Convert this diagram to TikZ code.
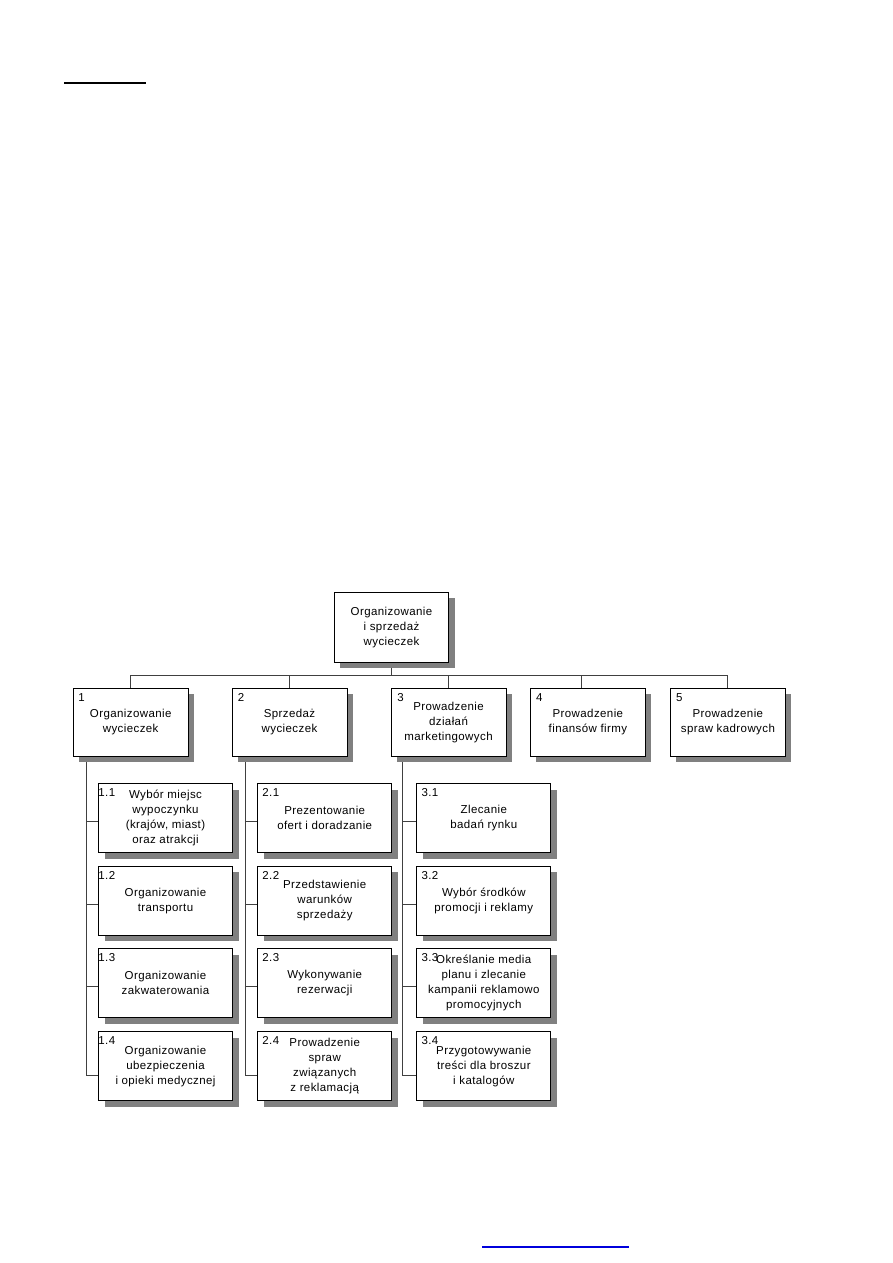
\documentclass[tikz,border=0pt]{standalone}
\usepackage{fontspec}
\setmainfont{Liberation Sans}[LetterSpace=3.5]
\usetikzlibrary{shadows,calc}
\pgfdeclarelayer{paper}
\pgfdeclarelayer{bg}
\pgfsetlayers{paper,bg,main}
\tikzset{
  box/.style={draw=black, line width=0.9pt, fill=white, inner sep=1pt, align=center,
    font=\fontsize{11.5}{15}\selectfont,
    drop shadow={shadow xshift=6pt, shadow yshift=-6pt, fill=black!50, opacity=1}},
  topbox/.style={box, minimum width=115pt, minimum height=68pt},
  subbox/.style={box, minimum width=134pt, minimum height=69pt},
  num/.style={anchor=base west, inner sep=0pt, font=\fontsize{11.5}{15}\selectfont},
  conn/.style={draw=black!75, line width=0.9pt},
}
\begin{document}
\begin{tikzpicture}[x=1pt, y=-1pt]
\begin{pgfonlayer}{paper}
  \fill[white] (0,0) rectangle (893,1263);
\end{pgfonlayer}
\useasboundingbox (0,0) rectangle (893,1263);

% decorative rules
\coordinate (ha) at (64,82.7);
\coordinate (hb) at (146,82.7);
\draw[line width=2pt] (ha) -- (hb);
\coordinate (fa) at (482,1247);
\coordinate (fb) at (628.7,1247);
\draw[line width=1.2pt, draw={rgb,255:red,0;green,0;blue,220}] (fa) -- (fb);

% root
\node[topbox, minimum width=114.4pt, minimum height=69.7pt] (root) at (391.5,627.2) {Organizowanie\\i sprzedaż\\wycieczek};

% level 1
\node[topbox] (b1) at (130.7,722.2) {Organizowanie\\wycieczek};
\node[topbox] (b2) at (289.5,722.2) {Sprzedaż\\wycieczek};
\node[topbox] (b3) at (448.5,722.2) {Prowadzenie\\działań\\marketingowych};
\node[topbox] (b4) at (587.9,722.2) {Prowadzenie\\finansów firmy};
\node[topbox] (b5) at (727.9,722.2) {Prowadzenie\\spraw kadrowych};
\node[num] (n1) at ($(b1.north west)+(5.5,14)$) {1};
\node[num] (n2) at ($(b2.north west)+(6,14)$) {2};
\node[num] (n3) at ($(b3.north west)+(6.5,14)$) {3};
\node[num] (n4) at ($(b4.north west)+(6,14)$) {4};
\node[num] (n5) at ($(b5.north west)+(6,14)$) {5};

% column 1
\node[subbox] (c11) at (165.5,818) {Wybór miejsc\\wypoczynku\\(krajów, miast)\\oraz atrakcji};
\node[subbox] (c12) at (165.5,900.7) {Organizowanie\\transportu};
\node[subbox] (c13) at (165.5,983.3) {Organizowanie\\zakwaterowania};
\node[subbox] (c14) at (165.5,1066.2) {Organizowanie\\ubezpieczenia\\i opieki medycznej};
% column 2
\node[subbox] (c21) at (324.7,818) {Prezentowanie\\ofert i doradzanie};
\node[subbox] (c22) at (324.7,900.7) {Przedstawienie\\warunków\\sprzedaży};
\node[subbox] (c23) at (324.7,983.3) {Wykonywanie\\rezerwacji};
\node[subbox] (c24) at (324.7,1066.2) {Prowadzenie\\spraw\\związanych\\z reklamacją};
% column 3
\node[subbox] (c31) at (483.8,818) {Zlecanie\\badań rynku};
\node[subbox] (c32) at (483.8,900.7) {Wybór środków\\promocji i reklamy};
\node[subbox] (c33) at (483.8,983.3) {Określanie media\\planu i zlecanie\\kampanii reklamowo\\promocyjnych};
\node[subbox] (c34) at (483.8,1066.2) {Przygotowywanie\\treści dla broszur\\i katalogów};

\foreach \r in {1,2,3,4}{
  \node[num] (m1\r) at ($(c1\r.north west)+(0.2,13.5)$) {1.\r};
  \node[num] (m2\r) at ($(c2\r.north west)+(5,13.5)$) {2.\r};
  \node[num] (m3\r) at ($(c3\r.north west)+(5,13.5)$) {3.\r};
}

% connectors
\begin{pgfonlayer}{bg}
  \coordinate (bar) at (0,675);
  \draw[conn] (root.south) -- (root.south |- bar);
  \draw[conn] (b1.north |- bar) -- (b5.north |- bar);
  \coordinate (b4top) at ($(b4.north)+(-6.6,0)$);
  \foreach \b in {b1,b2,b3,b5}{
    \draw[conn] (\b.north |- bar) -- (\b.north);
  }
  \draw[conn] (b4top |- bar) -- (b4top);
  \coordinate (s1) at ($(b1.south west)+(13.4,0)$);
  \coordinate (s2) at ($(b2.south west)+(13.4,0)$);
  \coordinate (s3) at ($(b3.south west)+(12.3,0)$);
  \foreach \c in {1,2,3}{
    \coordinate (e\c) at ($(c\c4.west)+(0,9)$);
    \draw[conn] (s\c) |- (e\c);
    \foreach \r in {1,2,3}{
      \coordinate (t\c\r) at ($(c\c\r.west)+(0,3.5)$);
      \draw[conn] (s\c |- t\c\r) -- (t\c\r);
    }
  }
\end{pgfonlayer}
\end{tikzpicture}
\end{document}
